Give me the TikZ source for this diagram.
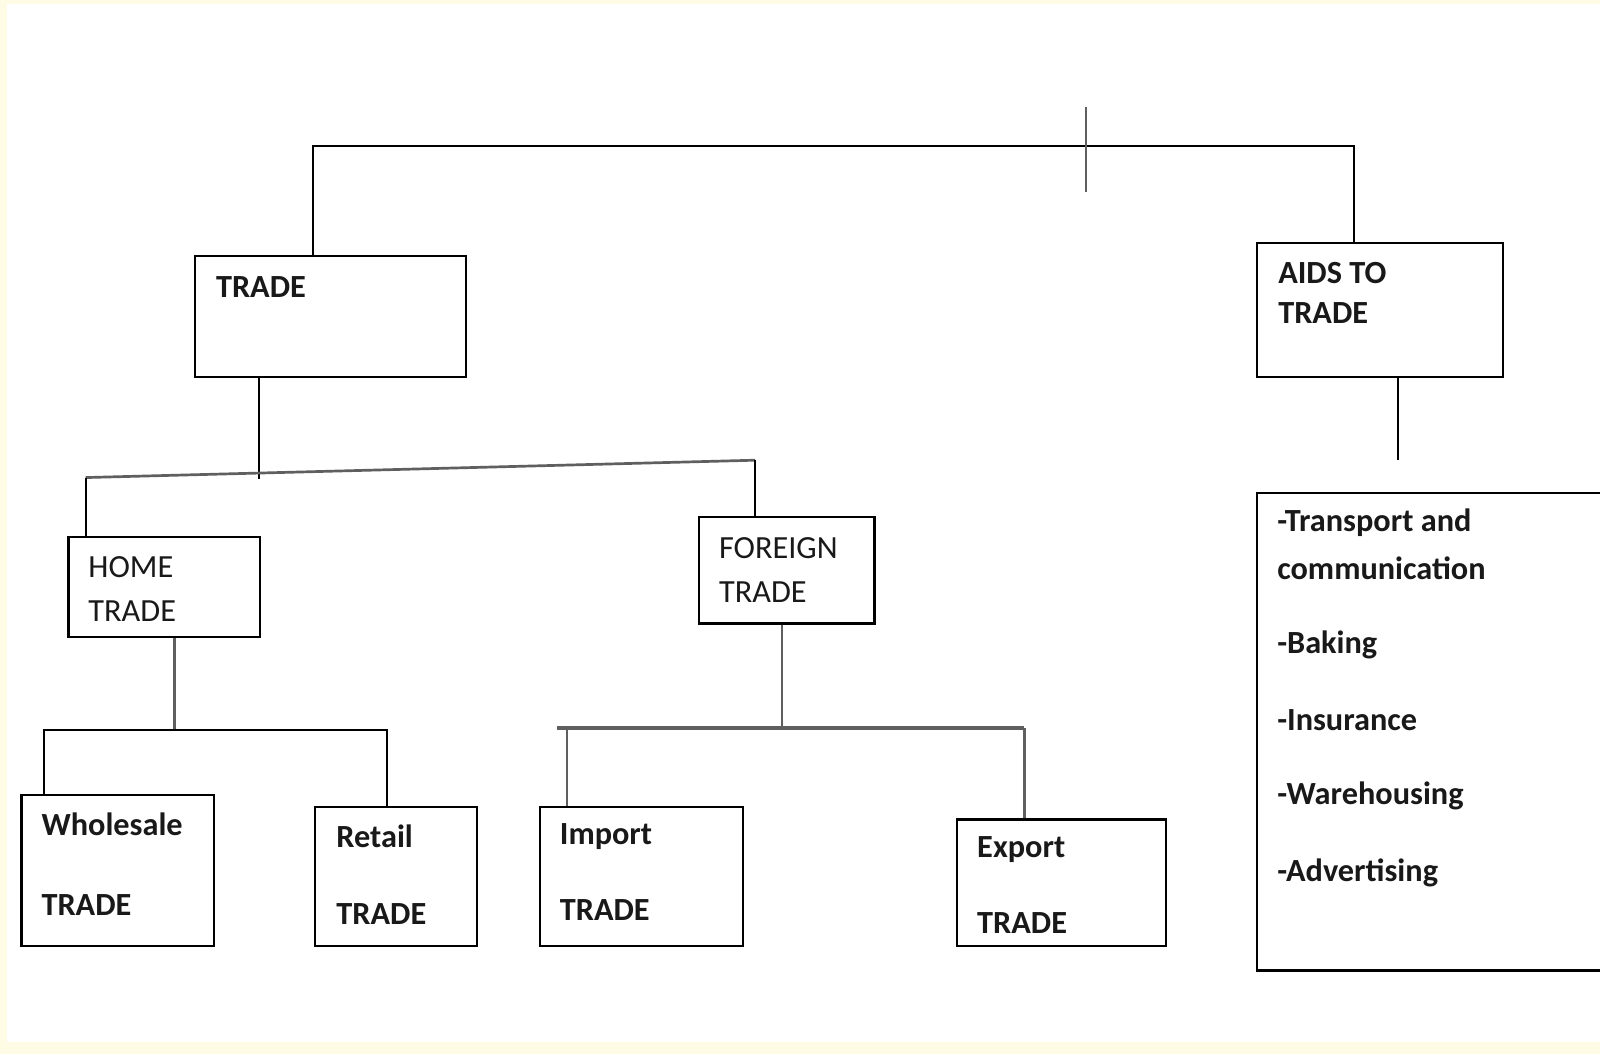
\documentclass[tikz,border=0pt]{standalone}
\usepackage{fontspec}
\setmainfont{Carlito}
\usetikzlibrary{calc}
\definecolor{paleyellow}{RGB}{255,252,230}
\definecolor{linegray}{RGB}{95,95,95}
\tikzset{
  box/.style={draw=black, line width=0.6pt, fill=white, anchor=north west, inner sep=0pt},
  txt/.style={anchor=west, inner sep=0pt, font=\fontsize{9}{11}\selectfont\bfseries, text=black!90},
  txtreg/.style={anchor=west, inner sep=0pt, font=\fontsize{9}{11}\selectfont, text=black!90},
  conn/.style={draw=black, line width=0.55pt},
  conngray/.style={draw=linegray, line width=0.6pt},
}
\begin{document}
\begin{tikzpicture}[x=0.01cm, y=-0.01cm]
\useasboundingbox (0,0) rectangle (1568,1033);
\fill[paleyellow] (0,0) rectangle (1568,1033);
\fill[white] (7,4) rectangle (1568,1021);

% boxes
\node[box, minimum width=266*0.01cm, minimum height=118*0.01cm] (trade) at (190,250) {};
\node[box, minimum width=241*0.01cm, minimum height=131*0.01cm] (aids) at (1231,237) {};
\node[box, minimum width=188*0.01cm, minimum height=98*0.01cm] (home) at (66,525) {};
\node[box, minimum width=172*0.01cm, minimum height=104*0.01cm] (foreign) at (684,506) {};
\node[box, minimum width=189*0.01cm, minimum height=148*0.01cm] (whole) at (20,778) {};
\node[box, minimum width=158*0.01cm, minimum height=136*0.01cm] (retail) at (308,790) {};
\node[box, minimum width=199*0.01cm, minimum height=136*0.01cm] (import) at (528,790) {};
\node[box, minimum width=205*0.01cm, minimum height=124*0.01cm] (export) at (937,802) {};
\node[box, minimum width=400*0.01cm, minimum height=468*0.01cm] (list) at (1231,482) {};

% texts
\node[txt] (tradeT) at (211,281) {TRADE};
\node[txt] (aidsA) at (1252,268) {AIDS TO};
\node[txt] (aidsB) at (1252,307) {TRADE};
\node[txtreg] (homeA) at (86,556) {HOME};
\node[txtreg] (homeB) at (86,599) {TRADE};
\node[txtreg] (forA) at (704,537) {FOREIGN};
\node[txtreg] (forB) at (704,580) {TRADE};
\node[txt] (wholeA) at (40,808) {Wholesale};
\node[txt] (wholeB) at (40,887) {TRADE};
\node[txt] (retailA) at (329,820) {Retail};
\node[txt] (retailB) at (329,896) {TRADE};
\node[txt] (importA) at (548,820) {Import};
\node[txt] (importB) at (548,892) {TRADE};
\node[txt] (exportA) at (957,833) {Export};
\node[txt] (exportB) at (957,905) {TRADE};
\node[txt] (l1) at (1251,512) {-Transport and};
\node[txt] (l2) at (1251,557) {communication};
\node[txt] (l3) at (1251,632) {-Baking};
\node[txt] (l4) at (1251,706) {-Insurance};
\node[txt] (l5) at (1251,780) {-Warehousing};
\node[txt] (l6) at (1251,855) {-Advertising};

% free-end coordinates
\coordinate (tickTop) at (1064,105);
\coordinate (tickBot) at (1064,188);
\coordinate (aidsEnd) at (1370,451);
\coordinate (slantL) at (84,468);
\coordinate (slantR) at (740,451);
\coordinate (tradeEnd) at (254,469);
\coordinate (homeBar) at (171,715);
\coordinate (forBar) at (766,713);
\coordinate (forBarL) at (546,713);

% top connector
\draw[conn] ($(trade.north west)+(117,0)$) -- ++(0,-107) -| ($(aids.north west)+(96,0)$);
\draw[conngray] (tickTop) -- (tickBot);
\draw[conn] ($(aids.south west)+(139,0)$) -- (aidsEnd);

% TRADE subtree
\draw[conn] ($(trade.south west)+(64,0)$) -- (tradeEnd);
\draw[conngray, line width=0.75pt] (slantL) -- (slantR);
\draw[conn] (slantL) -- ($(home.north west)+(18,0)$);
\draw[conn] (slantR) -- ($(foreign.north west)+(56,0)$);

% HOME subtree
\draw[conngray] ($(home.south west)+(105,0)$) -- (homeBar);
\draw[conn] ($(whole.north west)+(23,0)$) |- (homeBar) -| ($(retail.north west)+(71,0)$);

% FOREIGN subtree
\draw[conngray] ($(foreign.south west)+(82,0)$) -- (forBar);
\draw[conngray, line width=1.1pt] (forBarL) -- (1004,713);
\draw[conngray] (556,713) -- ($(import.north west)+(28,0)$);
\draw[conngray] (1004,713) -- ($(export.north west)+(67,0)$);
\end{tikzpicture}
\end{document}
